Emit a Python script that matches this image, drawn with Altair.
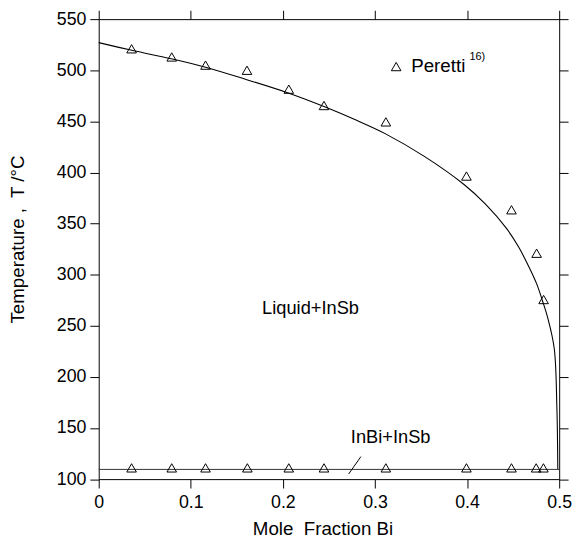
import altair as alt
import pandas as pd

# Liquidus curve
curve_x = [0, 0.036, 0.08, 0.116, 0.16, 0.205, 0.246, 0.28, 0.311, 0.354, 0.397, 0.42, 0.443, 0.456, 0.468, 0.476, 0.482, 0.4875, 0.4946, 0.4975, 0.4985]
curve_T = [527, 519.5, 511, 503, 491, 478, 464, 451, 438, 415.5, 388, 369, 345, 327, 306, 290, 274, 258, 228, 170, 110]

# Peretti data (liquidus)
liq_x = [0.0357, 0.0793, 0.116, 0.161, 0.2064, 0.2446, 0.3118, 0.3993, 0.4482, 0.4755, 0.4831]
liq_T = [521, 513, 505, 500, 481.5, 465.5, 449.5, 396.5, 363.5, 321, 275.7]

# Peretti data (eutectic)
eut_x = [0.0357, 0.0793, 0.116, 0.1614, 0.2064, 0.2446, 0.3118, 0.3993, 0.4482, 0.475, 0.4829]
eut_T = [111, 111, 111, 111, 111, 111, 111, 111, 111, 111, 111]

# Eutectic line
eline_x = [0.0, 0.5]
eline_T = [109.5, 109.5]

# Pointer line
ptr_x = [0.2714, 0.2847]
ptr_T = [105, 122]

# Labels
lab_text = ["Liquid+InSb", "InBi+InSb"]
lab_x = [0.230, 0.317]
lab_T = [267, 141.5]

leg_x = [0.323]
leg_T = [503.6]
leg_text = ["Peretti"]
leg_tx = [0.3393]
leg_tT = [504.3]
sup_text = ["16)"]
sup_x = [0.4025]
sup_T = [512.5]

FONT = "Liberation Sans, Arial, Helvetica, sans-serif"

xticks = [0, 0.1, 0.2, 0.3, 0.4, 0.5]
yticks = list(range(100, 551, 50))

xscale = alt.Scale(domain=[0, 0.5], nice=False, zero=False)
yscale = alt.Scale(domain=[100, 550], nice=False, zero=False)

xaxis = alt.Axis(values=xticks, labelExpr="datum.value == 0 ? '0' : format(datum.value, '.1f')",
                 title="Mole\u00a0 Fraction Bi", titleX=227, titleY=50, titleBaseline="middle",
                 titleFontWeight="normal", titleFontSize=19, titleFont=FONT,
                 labelPadding=6, labelFlush=False)
yaxis = alt.Axis(values=yticks, title="Temperature ,\u00a0 T /\u00b0C",
                 titleAngle=-90, titleX=-82, titleY=223, titleAlign="center", titleBaseline="middle",
                 titleFontWeight="normal", titleFontSize=19, titleFont=FONT, labelPadding=4,
                 labelFlush=False)

X = lambda: alt.X("x:Q", scale=xscale, axis=None)
Y = lambda: alt.Y("T:Q", scale=yscale, axis=None)

curve_df = pd.DataFrame({"x": curve_x, "T": curve_T})
curve = alt.Chart(curve_df).mark_line(color="black", strokeWidth=1.1, interpolate="catmull-rom").encode(
    x=alt.X("x:Q", scale=xscale, axis=xaxis),
    y=alt.Y("T:Q", scale=yscale, axis=yaxis),
)

eline = alt.Chart(pd.DataFrame({"x": eline_x, "T": eline_T})).mark_line(color="#333333", strokeWidth=1).encode(
    x=alt.X("x:Q", scale=xscale, axis=alt.Axis(orient="top", labels=False, title=None, values=xticks)),
    y=alt.Y("T:Q", scale=yscale, axis=alt.Axis(orient="right", labels=False, title=None, values=yticks)),
)

ptr = alt.Chart(pd.DataFrame({"x": ptr_x, "T": ptr_T})).mark_line(color="black", strokeWidth=1).encode(
    x=X(), y=Y())

pts_df = pd.DataFrame({"x": liq_x + eut_x + leg_x, "T": liq_T + eut_T + leg_T})
pts = alt.Chart(pts_df).mark_point(shape="triangle-up", size=95, filled=False, color="black", strokeWidth=1, opacity=1).encode(
    x=X(), y=Y())

labels = alt.Chart(pd.DataFrame({"x": lab_x, "T": lab_T, "t": lab_text})).mark_text(
    font=FONT, fontSize=18.5, align="center", baseline="middle", color="black").encode(
    x=X(), y=Y(), text="t:N")

leg = alt.Chart(pd.DataFrame({"x": leg_tx, "T": leg_tT, "t": leg_text})).mark_text(
    font=FONT, fontSize=19, align="left", baseline="middle", color="black").encode(
    x=X(), y=Y(), text="t:N")

sup = alt.Chart(pd.DataFrame({"x": sup_x, "T": sup_T, "t": sup_text})).mark_text(
    font=FONT, fontSize=11, align="left", baseline="middle", color="black").encode(
    x=X(), y=Y(), text="t:N")

chart = alt.layer(curve, eline, ptr, pts, labels, leg, sup).resolve_axis(
    x="independent", y="independent"
).properties(
    width=467, height=466.5,
    autosize=alt.AutoSizeParams(type="none"),
    padding={"left": 92, "top": 7.5, "right": 13, "bottom": 62},
).configure_view(stroke=None).configure_axis(
    grid=False, domainColor="black", tickColor="black", domainWidth=1, tickWidth=1, tickSize=9,
    labelFont=FONT, labelFontSize=18, labelColor="black", titleColor="black",
)

chart.save("out.html", embed_options={"renderer": "svg", "actions": False})
